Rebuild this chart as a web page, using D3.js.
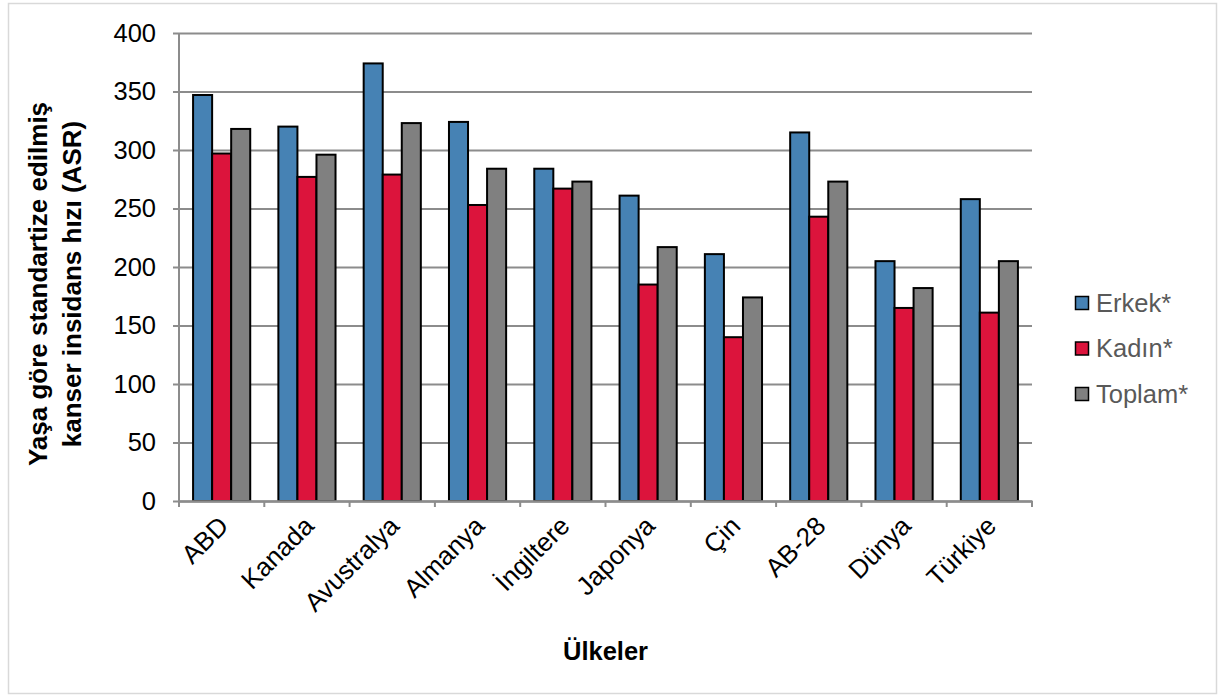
<!DOCTYPE html>
<html>
<head>
<meta charset="utf-8">
<script src="https://cdn.jsdelivr.net/npm/d3@7"></script>
<style>
  html, body { margin: 0; padding: 0; background: #fff; }
  svg { display: block; font-family: "Liberation Sans", Arial, sans-serif; }
</style>
</head>
<body>
<svg id="chart" width="1219" height="697"></svg>
<script>
// Age-standardised cancer incidence rate (ASR) by country
const countries = ["ABD", "Kanada", "Avustralya", "Almanya", "İngiltere", "Japonya", "Çin", "AB-28", "Dünya", "Türkiye"];
const seriesNames = ["Erkek*", "Kadın*", "Toplam*"];
const erkek  = [347, 320, 374, 324, 284, 261, 211, 315, 205, 258];
const kadin  = [297, 277, 279, 253, 267, 185, 140, 243, 165, 161];
const toplam = [318, 296, 323, 284, 273, 217, 174, 273, 182, 205];
const yTicks = [0, 50, 100, 150, 200, 250, 300, 350, 400];
const seriesColors = ["#4682B4", "#DC143C", "#808080"];

const seriesValues = [erkek, kadin, toplam];

const svg = d3.select("#chart");
const plot = { left: 179, right: 1032, top: 33, bottom: 501 };

// outer frame
svg.append("rect")
  .attr("x", 8.5).attr("y", 3.5)
  .attr("width", 1208).attr("height", 690)
  .attr("fill", "#fff").attr("stroke", "#d9d9d9").attr("stroke-width", 1.5);

const x0 = d3.scaleBand().domain(countries).range([plot.left, plot.right]).padding(0);
const bw = x0.bandwidth();
const x1 = d3.scaleBand().domain(seriesNames).range([bw * 0.165, bw * 0.835]).padding(0);
const y = d3.scaleLinear().domain([0, 400]).range([plot.bottom, plot.top]);

// horizontal gridlines with short outside ticks
const yAxis = d3.axisLeft(y).tickValues(yTicks).tickSize(-(plot.right - plot.left)).tickSizeOuter(0).tickPadding(23);
const gy = svg.append("g").attr("transform", `translate(${plot.left},0)`).call(yAxis);
gy.select(".domain").remove();
gy.selectAll(".tick line").attr("stroke", "#8c8c8c").attr("stroke-width", 2).attr("x1", -6);
gy.selectAll(".tick text").attr("font-size", 25.5).attr("fill", "#000");

// bars
const groups = svg.append("g").selectAll("g")
  .data(countries)
  .join("g")
  .attr("transform", d => `translate(${x0(d)},0)`);

groups.selectAll("rect")
  .data((c, i) => seriesNames.map((s, k) => ({ s, k, v: seriesValues[k][i] })))
  .join("rect")
  .attr("x", d => x1(d.s))
  .attr("width", x1.bandwidth())
  .attr("y", d => y(d.v))
  .attr("height", d => y(0) - y(d.v))
  .attr("fill", d => seriesColors[d.k])
  .attr("stroke", "#000")
  .attr("stroke-width", 2);

// axis lines
svg.append("line")
  .attr("x1", plot.left).attr("x2", plot.left)
  .attr("y1", plot.top).attr("y2", plot.bottom)
  .attr("stroke", "#8c8c8c").attr("stroke-width", 2);

const xAxis = d3.axisBottom(x0).tickSize(0).tickFormat("");
const gx = svg.append("g").attr("transform", `translate(0,${plot.bottom})`).call(xAxis);
gx.select(".domain").attr("stroke", "#8c8c8c").attr("stroke-width", 2.5);
gx.selectAll(".tick").remove();

// tick marks between categories
svg.append("g").selectAll("line")
  .data(countries.concat(["_end"]))
  .join("line")
  .attr("x1", (d, i) => plot.left + i * bw)
  .attr("x2", (d, i) => plot.left + i * bw)
  .attr("y1", plot.bottom).attr("y2", plot.bottom + 6)
  .attr("stroke", "#8c8c8c").attr("stroke-width", 2);

// rotated category labels
svg.append("g").selectAll("text")
  .data(countries)
  .join("text")
  .attr("transform", d => `translate(${x0(d) + bw / 2 + 2},${plot.bottom + 20}) rotate(-45)`)
  .attr("text-anchor", "end")
  .attr("dy", "0.35em")
  .attr("font-size", 26)
  .attr("fill", "#000")
  .text(d => d);

// axis titles
svg.append("text")
  .attr("x", (plot.left + plot.right) / 2).attr("y", 660)
  .attr("text-anchor", "middle")
  .attr("font-size", 25.5).attr("font-weight", "bold")
  .text("Ülkeler");

const yTitle = svg.append("text")
  .attr("transform", "translate(0,284) rotate(-90)")
  .attr("text-anchor", "middle")
  .attr("font-size", 26).attr("font-weight", "bold");
yTitle.append("tspan").attr("x", 0).attr("y", 47).text("Yaşa göre standartize edilmiş");
yTitle.append("tspan").attr("x", 0).attr("y", 81).text("kanser insidans hızı (ASR)");

// legend
const legend = svg.append("g").attr("transform", "translate(1075,303)");
const li = legend.selectAll("g").data(seriesNames).join("g")
  .attr("transform", (d, i) => `translate(0,${i * 45.5})`);
li.append("rect")
  .attr("x", 0.5).attr("y", -6.5).attr("width", 13).attr("height", 13)
  .attr("fill", (d, i) => seriesColors[i]).attr("stroke", "#000").attr("stroke-width", 1.5);
li.append("text")
  .attr("x", 21).attr("y", 0).attr("dy", "0.35em")
  .attr("font-size", 25.5).attr("fill", "#595959")
  .text(d => d);
</script>
</body>
</html>
